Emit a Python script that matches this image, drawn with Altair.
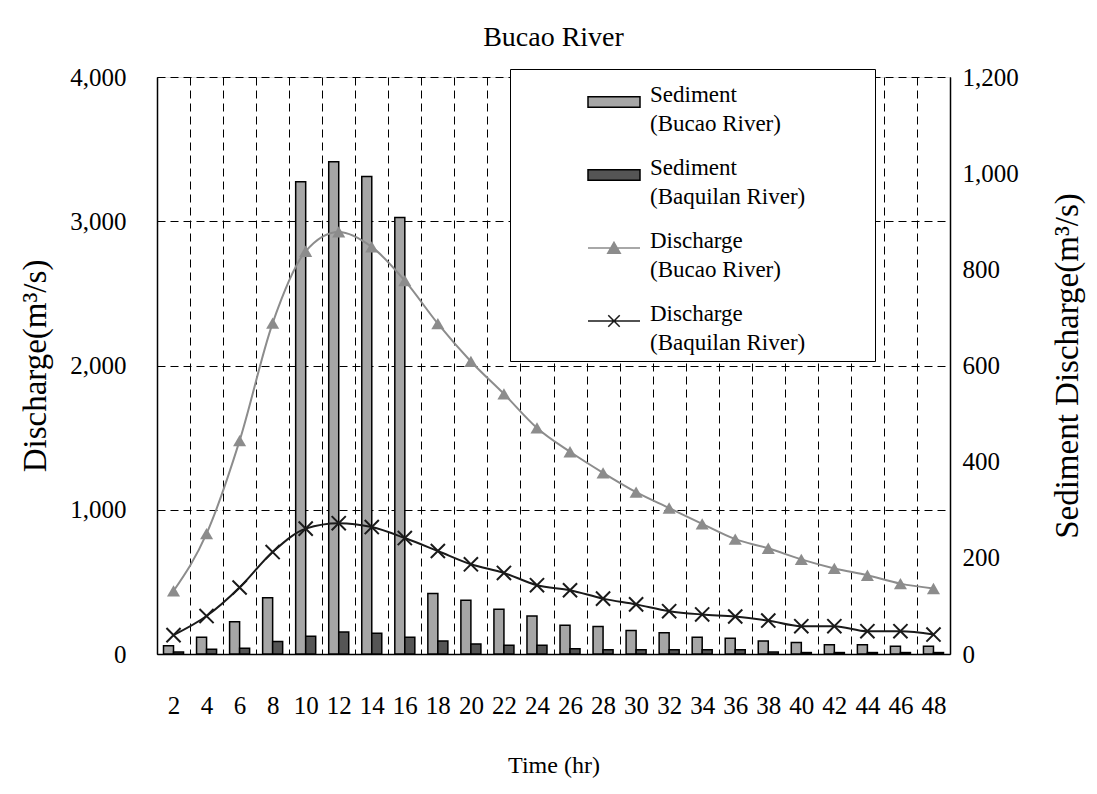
import altair as alt
import pandas as pd

hours = [2, 4, 6, 8, 10, 12, 14, 16, 18, 20, 22, 24, 26, 28, 30, 32, 34, 36, 38, 40, 42, 44, 46, 48]
sed_bucao = [17, 35, 67, 117, 982, 1024, 993, 908, 126, 112, 93, 79, 60, 57, 49, 44, 35, 33, 27, 24, 19, 19, 16, 16]
sed_baquilan = [4, 10, 12, 26, 37, 46, 43, 35, 27, 21, 18, 18, 11, 9, 9, 9, 9, 9, 4, 3, 3, 3, 3, 3]
dis_bucao = [437, 834, 1479, 2294, 2792, 2926, 2822, 2588, 2290, 2028, 1803, 1567, 1402, 1256, 1122, 1012, 902, 796, 733, 656, 593, 546, 488, 454]
dis_baquilan = [131, 263, 461, 707, 869, 907, 880, 804, 714, 622, 562, 477, 442, 384, 344, 297, 274, 260, 232, 193, 193, 158, 158, 135]

S1 = "Sediment|(Bucao River)"
S2 = "Sediment|(Baquilan River)"
D1 = "Discharge|(Bucao River)"
D2 = "Discharge|(Baquilan River)"
series_all = [S1, S2, D1, D2]

bars_df = pd.DataFrame({
    "hour": hours * 2,
    "series": [S1] * len(hours) + [S2] * len(hours),
    "value": sed_bucao + sed_baquilan,
})
lines_df = pd.DataFrame({
    "hour": hours * 2,
    "series": [D1] * len(hours) + [D2] * len(hours),
    "value": dis_bucao + dis_baquilan,
})
legend_df = pd.DataFrame({"series": series_all})

FONT = "Liberation Serif"
XPATH = "M-1,-1L1,1M-1,1L1,-1"

x_enc = alt.X(
    "hour:O",
    sort=hours,
    scale=alt.Scale(paddingInner=0, paddingOuter=0),
    axis=alt.Axis(
        title="Time (hr)", labelAngle=0, tickBand="extent", grid=True,
        gridDash=[8, 5], gridColor="black", gridWidth=1, gridOpacity=1,
        ticks=False, domainColor="black", domainWidth=1.5,
        labelFont=FONT, labelFontSize=25, labelColor="black", labelPadding=39,
        titleFont=FONT, titleFontSize=24, titleFontWeight="normal", titleColor="black",
        titlePadding=35,
    ),
)

bars = alt.Chart(bars_df).mark_bar(stroke="black", strokeWidth=1.5).encode(
    x=x_enc,
    xOffset=alt.XOffset("series:N", sort=[S1, S2],
                        scale=alt.Scale(domain=[S1, S2], paddingInner=0, paddingOuter=0.65)),
    y=alt.Y("value:Q", scale=alt.Scale(domain=[0, 1200], nice=False),
            axis=alt.Axis(orient="right", title="Sediment Discharge(m³/s)",
                          values=[0, 200, 400, 600, 800, 1000, 1200], format=",.0f",
                          grid=False, tickSize=0, domainColor="black", domainWidth=1.5,
                          labelFont=FONT, labelFontSize=25, labelColor="black", labelPadding=12,
                          titleFont=FONT, titleFontSize=33, titleFontWeight="normal",
                          titleColor="black", titleAngle=270, titlePadding=66)),
    color=alt.Color("series:N", scale=alt.Scale(domain=[S1, S2], range=["#a6a6a6", "#555555"]),
                    legend=None),
)

y_left = alt.Y("value:Q", scale=alt.Scale(domain=[0, 4000], nice=False),
               axis=alt.Axis(orient="left", title="Discharge(m³/s)",
                             values=[0, 1000, 2000, 3000, 4000], format=",.0f",
                             grid=True, gridDash=[8, 5], gridColor="black", gridWidth=1,
                             tickSize=0, domainColor="black", domainWidth=1.5,
                             labelFont=FONT, labelFontSize=25, labelColor="black", labelPadding=31,
                             titleFont=FONT, titleFontSize=33, titleFontWeight="normal",
                             titleColor="black", titlePadding=17))

lines = alt.Chart(lines_df).mark_line(interpolate="monotone", strokeWidth=2).encode(
    x=x_enc,
    y=y_left,
    color=alt.Color("series:N", scale=alt.Scale(domain=[D1, D2], range=["#8c8c8c", "#1a1a1a"]),
                    legend=None),
)
tri = alt.Chart(lines_df).transform_filter(alt.datum.series == D1).mark_point(
    shape="triangle-up", filled=True, color="#8c8c8c", size=170, opacity=1
).encode(x=x_enc, y=y_left)
crosses = alt.Chart(lines_df).transform_filter(alt.datum.series == D2).mark_point(
    shape=XPATH, filled=False, stroke="#1a1a1a", strokeWidth=2, size=200, opacity=1
).encode(x=x_enc, y=y_left)

left = alt.layer(lines, tri, crosses)

pad = "\u00a0" * 11 + "\u200b"
leg = alt.Legend(
    title=None, orient="none", legendX=353, legendY=-8, direction="vertical",
    labelFont=FONT, labelFontSize=23, labelColor="black", labelLimit=600,
    labelExpr="split(datum.label + '" + pad + "', '|')",
    labelBaseline="alphabetic", labelOffset=9,
    symbolSize=2704, symbolStrokeWidth=1.5, symbolOffset=71,
    padding=6, rowPadding=12, strokeColor="black", fillColor="white",
)
dummy = alt.Chart(legend_df).transform_filter("false").mark_point(filled=True, opacity=1).encode(
    fill=alt.Fill("series:N", scale=alt.Scale(domain=series_all,
                  range=["#a6a6a6", "#555555", "#8c8c8c", "#000000"]), legend=leg),
    stroke=alt.Stroke("series:N", scale=alt.Scale(domain=series_all,
                      range=["black", "black", "#8c8c8c", "#1a1a1a"]), legend=leg),
    shape=alt.Shape("series:N", scale=alt.Scale(domain=series_all, range=[
        "M-1,-0.2H1V0.2H-1Z",
        "M-1,-0.2H1V0.2H-1Z",
        "M-1,0H1M0,-0.22L0.24,0.2H-0.24Z",
        "M-1,0H1M-0.22,-0.22L0.22,0.22M-0.22,0.22L0.22,-0.22",
    ]), legend=leg),
)

chart = alt.layer(bars, left, dummy).resolve_scale(
    y="independent", color="independent", fill="independent",
    stroke="independent", shape="independent",
).properties(
    width=793, height=577,
    title=alt.TitleParams("Bucao River", font=FONT, fontSize=28, fontWeight="normal",
                          color="black", baseline="alphabetic", offset=19, dy=28),
    autosize=alt.AutoSizeParams(type="none"),
    padding={"left": 149, "top": 69, "right": 139, "bottom": 124},
).configure_view(
    stroke="black", strokeWidth=1.5
).configure(
    background="white",
    style={"guide-label": {"lineHeight": 29}},
)

chart.save("out.html", embed_options={"renderer": "svg", "actions": False})
